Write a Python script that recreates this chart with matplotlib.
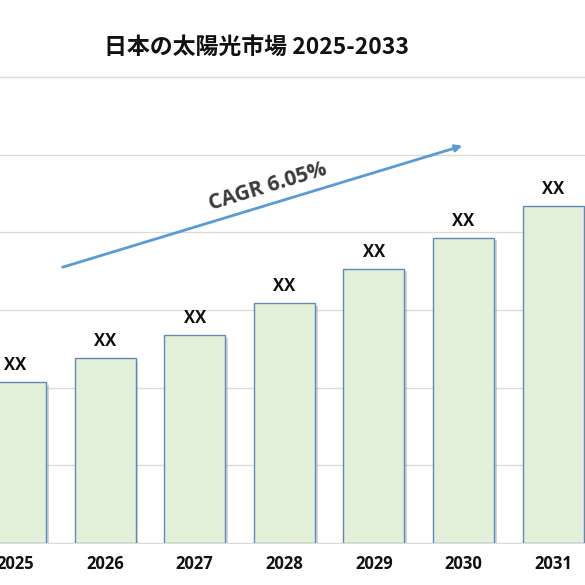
import matplotlib
matplotlib.use("Agg")
import matplotlib.pyplot as plt
import matplotlib.patheffects as pe

years = ["2025", "2026", "2027", "2028", "2029", "2030", "2031"]
values = [2.07, 2.38, 2.68, 3.09, 3.53, 3.93, 4.34]
bar_labels = ["XX"] * len(years)
title = "日本の太陽光市場 2025-2033"
cagr_text = "CAGR 6.05%"

plt.rcParams['font.family'] = ['Noto Sans CJK JP', 'DejaVu Sans']

fig = plt.figure(figsize=(5.85, 5.85), dpi=100)
ax = fig.add_axes([0.0, 1 - 543 / 585, 1.0, (543 - 60) / 585])

x = list(range(len(years)))
bars = ax.bar(x, values, width=0.68, color="#e2efd9", edgecolor="#6088bb",
              linewidth=1.0, zorder=3)
for b in bars:
    b.set_path_effects([pe.SimplePatchShadow(offset=(2, -2), shadow_rgbFace="#888888", alpha=0.35),
                        pe.Normal()])

for xi, v, lab in zip(x, values, bar_labels):
    ax.text(xi, v + 0.1, lab, ha="center", va="bottom", fontsize=12,
            fontweight="bold", color="#111111", family=["Open Sans", "DejaVu Sans"], zorder=4)

ax.set_xlim(-15.5 / 89.6, (585 - 15.5) / 89.6)
ax.set_ylim(0, (543 - 60) / 77.7)
ax.set_yticks([0, 1, 2, 3, 4, 5, 6])
ax.yaxis.grid(True, color="#dcdcdc", linewidth=1.0, zorder=0)
ax.tick_params(axis="y", left=False, labelleft=False)
ax.tick_params(axis="x", bottom=False, pad=5)
ax.set_xticks(x)
ax.set_xticklabels(years, fontsize=12, fontweight="bold",
                   family=["Open Sans", "DejaVu Sans"], color="#111111")
for s in ["top", "right", "left"]:
    ax.spines[s].set_visible(False)
ax.spines["bottom"].set_color("#dcdcdc")

ax.annotate("", xy=(465 / 585, (543 - 145) / 483), xytext=(60 / 585, (543 - 268) / 483),
            xycoords="axes fraction", textcoords="axes fraction",
            arrowprops=dict(arrowstyle="-|>", color="#5b9bd5", lw=2.0, mutation_scale=10),
            zorder=5)
ax.text(268 / 585, (543 - 187) / 483, cagr_text, transform=ax.transAxes, rotation=17,
        ha="center", va="center", fontsize=15, fontweight="bold", color="#3a3a3a",
        family=["Open Sans", "DejaVu Sans"], zorder=5)

fig.text(257 / 585, 1 - 47 / 585, title, ha="center", va="center", fontsize=16.5,
         fontweight="bold", color="#111111")

fig.savefig("out.png", dpi=100)
